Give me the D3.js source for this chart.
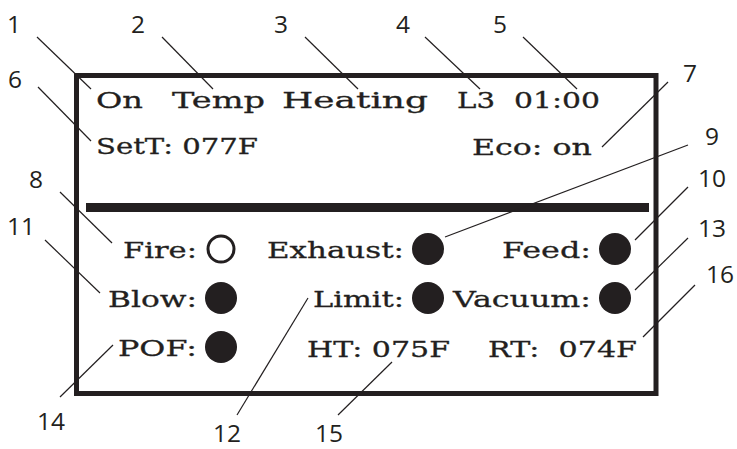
<!DOCTYPE html>
<meta charset="utf-8">
<html>
<head>
  <title>Controller display callouts</title>
  <style>
    body { margin: 0; background: #ffffff; }
    svg { width: 737px; height: 449px; display: block; }
    .screen { font-family: 'DejaVu Serif', serif; font-size: 23px; fill: #231f20; stroke: #231f20; stroke-width: 0.3; white-space: pre; }
    .callout { font-family: 'Open Sans', sans-serif; font-size: 24.5px; fill: #231f20; text-anchor: middle; }
    .leader { stroke: #231f20; stroke-width: 1.2; }
  </style>
  <script src="https://d3js.org/d3.v7.min.js"></script>
</head>
<body>
  <svg></svg>
  <script>
    // what the display shows
    var headerText = ["On", "Temp", "Heating", "L3", "01:00"];
    var statusText = ["SetT: 077F", "Eco: on"];
    var indicatorLabels = ["Fire:", "Exhaust:", "Feed:", "Blow:", "Limit:", "Vacuum:", "POF:"];
    var indicatorOn = [false, true, true, true, true, true, true];
    var readoutText = ["HT: 075F", "RT:  074F"];
    var calloutNumbers = ["1", "2", "3", "4", "5", "6", "7", "8", "9", "10", "11", "12", "13", "14", "15", "16"];

    // layout: indicator grid (column, row)
    var indicatorCell = [[0, 0], [1, 0], [2, 0], [0, 1], [1, 1], [2, 1], [0, 2]];
    var colX = d3.scaleOrdinal().domain([0, 1, 2]).range([221, 428, 615]);
    var rowY = d3.scaleLinear().domain([0, 2]).range([249, 347]);

    // text boxes on the screen: start x, baseline, width
    var headerBox = [[96, 108, 47], [172, 108, 93], [282, 108, 146], [457, 108, 38], [514, 108, 86]];
    var statusBox = [[96, 154, 162], [472, 155, 120]];
    var labelStart = [123, 267, 502, 108, 313, 453, 118];
    var readoutBox = [[307, 357, 143], [488, 357, 149]];

    // callouts: number centre x, baseline, leader from (x1,y1) to (x2,y2)
    var calloutPos = [
      [14, 33, 37, 37, 91, 89], [138, 33, 162, 37, 213, 89], [281, 33, 305, 37, 358, 89],
      [403, 33, 425, 37, 480, 89], [500, 33, 523, 37, 577, 89], [15, 88, 38, 87, 91, 141],
      [690, 82, 668, 82, 602, 147], [36, 188, 60, 192, 112, 243], [712, 145, 688, 145, 445, 237],
      [712, 187, 688, 187, 635, 240], [21, 235, 45, 240, 100, 293], [227, 442, 237, 415, 308, 298],
      [712, 237, 688, 238, 635, 290], [51, 430, 60, 397, 113, 345], [329, 442, 338, 415, 392, 362],
      [720, 283, 695, 285, 643, 337]
    ];

    var svg = d3.select("svg");

    // outer frame of the display
    svg.append("rect")
      .attr("x", 76.5).attr("y", 75.5)
      .attr("width", 579.5).attr("height", 318)
      .attr("fill", "none")
      .attr("stroke", "#231f20")
      .attr("stroke-width", 5);

    // divider bar
    svg.append("rect")
      .attr("x", 86).attr("y", 203)
      .attr("width", 563).attr("height", 9)
      .attr("fill", "#231f20");

    function addText(txt, box) {
      svg.append("text")
        .attr("class", "screen")
        .attr("x", box[0])
        .attr("y", box[1])
        .attr("textLength", box[2])
        .attr("lengthAdjust", "spacingAndGlyphs")
        .text(txt);
    }

    headerText.forEach(function(t, i) { addText(t, headerBox[i]); });
    statusText.forEach(function(t, i) { addText(t, statusBox[i]); });
    readoutText.forEach(function(t, i) { addText(t, readoutBox[i]); });

    // indicator labels end just left of their lamp
    indicatorLabels.forEach(function(t, i) {
      var c = indicatorCell[i];
      var cx = colX(c[0]);
      var base = rowY(c[1]) + 9;
      addText(t, [labelStart[i], base, cx - 24 - labelStart[i]]);
    });

    // lamps
    svg.selectAll(".lamp")
      .data(indicatorCell)
      .enter().append("circle")
        .attr("class", "lamp")
        .attr("cx", function(d) { return colX(d[0]); })
        .attr("cy", function(d) { return rowY(d[1]); })
        .attr("r", function(d, i) { return indicatorOn[i] ? 16 : 13; })
        .attr("fill", function(d, i) { return indicatorOn[i] ? "#231f20" : "#ffffff"; })
        .attr("stroke", "#231f20")
        .attr("stroke-width", function(d, i) { return indicatorOn[i] ? 0 : 3; });

    // leaders and numbers
    svg.selectAll(".leader")
      .data(calloutPos)
      .enter().append("line")
        .attr("class", "leader")
        .attr("x1", function(d) { return d[2]; })
        .attr("y1", function(d) { return d[3]; })
        .attr("x2", function(d) { return d[4]; })
        .attr("y2", function(d) { return d[5]; });

    svg.selectAll(".callout")
      .data(calloutNumbers)
      .enter().append("text")
        .attr("class", "callout")
        .attr("x", function(d, i) { return calloutPos[i][0]; })
        .attr("y", function(d, i) { return calloutPos[i][1]; })
        .text(function(d) { return d; });
  </script>
</body>
</html>
